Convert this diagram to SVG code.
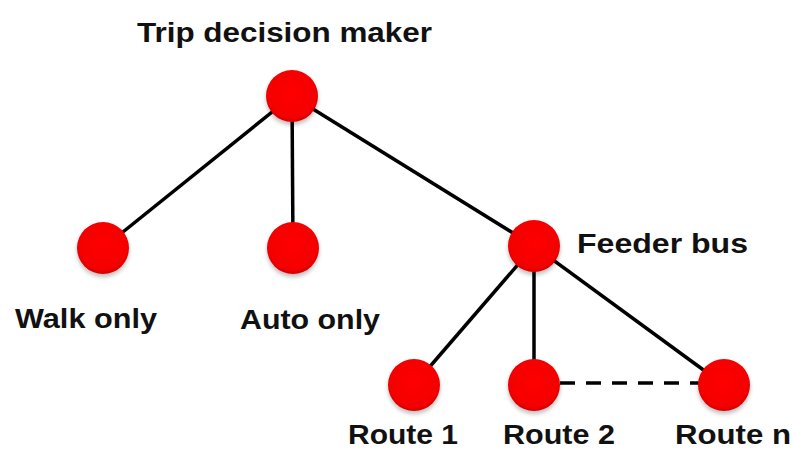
<svg xmlns="http://www.w3.org/2000/svg" width="793" height="450" viewBox="0 0 793 450">
<defs>
<radialGradient id="ball" cx="0.5" cy="0.45" r="0.55">
<stop offset="0" stop-color="#ff0000"/>
<stop offset="0.85" stop-color="#f40000"/>
<stop offset="1" stop-color="#d20000"/>
</radialGradient>
<filter id="sh" x="-30%" y="-30%" width="160%" height="170%">
<feGaussianBlur in="SourceAlpha" stdDeviation="2"/>
<feOffset dx="0" dy="3" result="b"/>
<feComponentTransfer><feFuncA type="linear" slope="0.25"/></feComponentTransfer>
<feMerge><feMergeNode/><feMergeNode in="SourceGraphic"/></feMerge>
</filter>
</defs>
<style>
.edge{stroke:#000;stroke-width:3.5;fill:none}
.dash{stroke-dasharray:15 11}
.node{fill:url(#ball);filter:url(#sh)}
.lbl{font-family:"Liberation Sans",Arial,sans-serif;font-weight:bold;font-size:28px;fill:#111}
.rt{font-size:27px}
</style>
<rect width="793" height="450" fill="#fff"/>
<g id="connectors">
<line class="edge" x1="292" y1="96" x2="103" y2="248"/>
<line class="edge" x1="292" y1="96" x2="293" y2="248"/>
<line class="edge" x1="292" y1="96" x2="534" y2="246"/>
<line class="edge" x1="534" y1="246" x2="414" y2="385"/>
<line class="edge" x1="534" y1="246" x2="534" y2="385"/>
<line class="edge" x1="534" y1="246" x2="724" y2="385"/>
<line class="edge dash" x1="560" y1="383" x2="700" y2="383"/>
</g>
<g id="trip">
<circle class="node" cx="292" cy="96" r="26"/>
<text class="lbl" x="137" y="42" font-size="31" textLength="295" lengthAdjust="spacingAndGlyphs">Trip decision maker</text>
</g>
<g id="walk">
<circle class="node" cx="103" cy="248" r="26"/>
<text class="lbl" x="15" y="328" textLength="142" lengthAdjust="spacingAndGlyphs">Walk only</text>
</g>
<g id="auto">
<circle class="node" cx="293" cy="248" r="26"/>
<text class="lbl" x="240" y="329" textLength="140" lengthAdjust="spacingAndGlyphs">Auto only</text>
</g>
<g id="feeder">
<circle class="node" cx="534" cy="246" r="26"/>
<text class="lbl" x="577" y="253" textLength="171" lengthAdjust="spacingAndGlyphs">Feeder bus</text>
</g>
<g id="route1">
<circle class="node" cx="414" cy="385" r="26"/>
<text class="lbl rt" x="348" y="444" textLength="110" lengthAdjust="spacingAndGlyphs">Route 1</text>
</g>
<g id="route2">
<circle class="node" cx="534" cy="385" r="26"/>
<text class="lbl rt" x="503" y="444" textLength="112" lengthAdjust="spacingAndGlyphs">Route 2</text>
</g>
<g id="routen">
<circle class="node" cx="724" cy="385" r="26"/>
<text class="lbl rt" x="675" y="444" textLength="116" lengthAdjust="spacingAndGlyphs">Route n</text>
</g>
</svg>
